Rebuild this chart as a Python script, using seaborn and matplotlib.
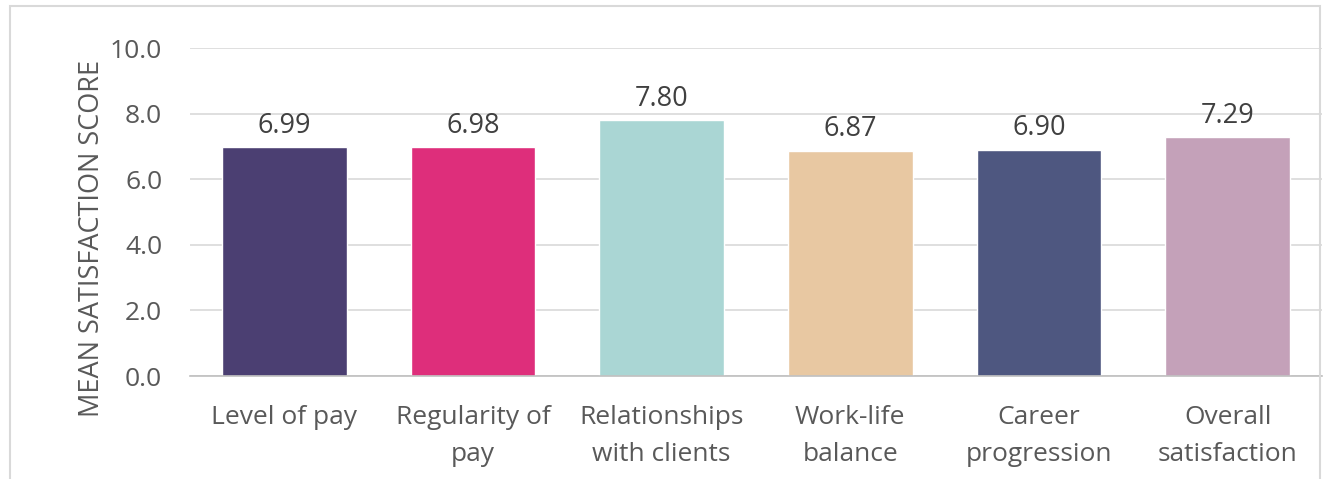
import matplotlib
matplotlib.use("Agg")
import matplotlib.pyplot as plt
import seaborn as sns
import pandas as pd
from matplotlib.patches import Rectangle

categories = ["Level of pay", "Regularity of\npay", "Relationships\nwith clients",
              "Work-life\nbalance", "Career\nprogression", "Overall\nsatisfaction"]
values = [6.99, 6.98, 7.80, 6.87, 6.90, 7.29]
value_labels = ["6.99", "6.98", "7.80", "6.87", "6.90", "7.29"]
colors = ["#4B3F72", "#DE2E7B", "#AAD6D4", "#E8C8A2", "#4E5780", "#C4A1B9"]
yticks = [0, 2, 4, 6, 8, 10]

sns.set_theme(style="white")
plt.rcParams['font.family'] = ['Open Sans', 'DejaVu Sans']

df = pd.DataFrame({"cat": categories, "val": values})

fig = plt.figure(figsize=(13.28, 4.79), dpi=100)
ax = fig.add_axes([190 / 1328, 1 - 376 / 479, (1322 - 190) / 1328, (376 - 48) / 479])

sns.barplot(data=df, x="cat", y="val", hue="cat", palette=colors, legend=False,
            width=0.66, ax=ax, saturation=1)

ax.set_ylim(0, 10)
ax.set_xlim(-0.5, 5.5)
ax.set_yticks(yticks)
ax.set_yticklabels([f"{t:.1f}" for t in yticks])
ax.yaxis.grid(True, color="#D9D9D9", linewidth=1.2)
ax.set_axisbelow(True)
for s in ["top", "right", "left"]:
    ax.spines[s].set_visible(False)
ax.spines["bottom"].set_color("#BFBFBF")
ax.spines["bottom"].set_linewidth(1.2)

ax.tick_params(axis="both", length=0, labelsize=19, labelcolor="#595959")
ax.tick_params(axis="y", pad=20)
ax.tick_params(axis="x", pad=21)
for lab in ax.get_xticklabels():
    lab.set_linespacing(1.6)
ax.set_xlabel("")
ax.set_ylabel("MEAN SATISFACTION SCORE", fontsize=19.5, color="#595959")
ax.yaxis.set_label_coords(-0.074, 0.418)

for i, (v, lab) in enumerate(zip(values, value_labels)):
    ax.text(i, v + 0.22, lab, ha="center", va="bottom", fontsize=19.5, color="#404040")

fig.patches.append(Rectangle((10 / 1328, -0.05), 1310 / 1328, 1.05 - 6 / 479,
                             transform=fig.transFigure, fill=False,
                             edgecolor="#D9D9D9", linewidth=1.5))

fig.savefig("out.png", dpi=100)
